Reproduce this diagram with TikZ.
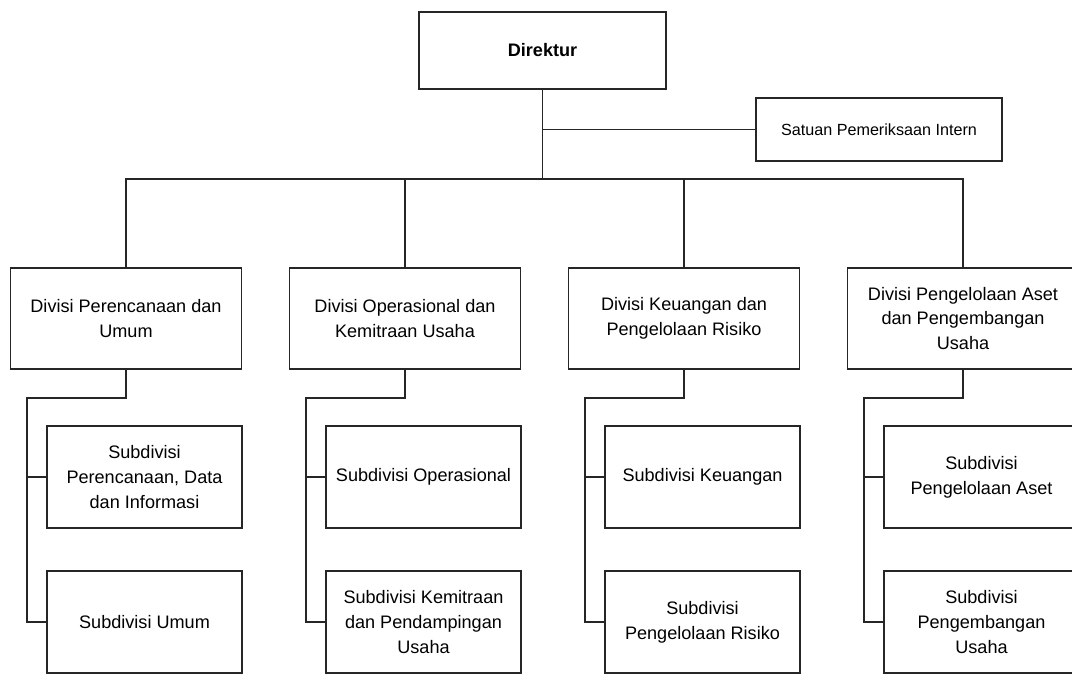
\documentclass[tikz,border=0pt]{standalone}
\usepackage{fontspec}
\setmainfont{Liberation Sans}
\usepackage{tikz}
\usetikzlibrary{positioning,calc}
\tikzset{
    unit/.style={draw=black!85, line width=1pt, align=center, inner sep=2pt,
        font=\fontsize{10.3}{14.2}\selectfont},
    topbox/.style={unit, minimum width=4.94cm, minimum height=1.54cm, font=\fontsize{10.3}{14.2}\selectfont\bfseries},
    auditbox/.style={unit, minimum width=4.92cm, minimum height=1.26cm, font=\fontsize{9.2}{12}\selectfont},
    divbox/.style={unit, minimum width=4.62cm, minimum height=2.02cm},
    subbox/.style={unit, minimum width=3.9cm, minimum height=2.04cm},
    link/.style={draw=black!85, line width=1pt}
}

\begin{document}
\begin{tikzpicture}[x=0.02cm, y=-0.02cm]
    \useasboundingbox (0,0) rectangle (1072,681);

    % Pimpinan
    \node[topbox] (dir) at (542.5,50.5) {Direktur};
    \node[auditbox] (spi) at (879,129.5) {Satuan Pemeriksaan Intern};

    % Divisi
    \node[divbox] (div1) at (126,318.5) {Divisi Perencanaan dan\\Umum};
    \node[divbox] (div2) at (405,318.5) {Divisi Operasional dan\\Kemitraan Usaha};
    \node[divbox] (div3) at (684,318.5) {Divisi Keuangan dan\\Pengelolaan Risiko};
    \node[divbox] (div4) at (963,318.5) {Divisi Pengelolaan Aset\\dan Pengembangan\\Usaha};

    % Subdivisi
    \node[subbox] (sub1a) at (144.5,477) {Subdivisi\\Perencanaan, Data\\dan Informasi};
    \node[subbox] (sub1b) at (144.5,622) {Subdivisi Umum};
    \node[subbox] (sub2a) at (423.5,477) {Subdivisi Operasional};
    \node[subbox] (sub2b) at (423.5,622) {Subdivisi Kemitraan\\dan Pendampingan\\Usaha};
    \node[subbox] (sub3a) at (702.5,477) {Subdivisi Keuangan};
    \node[subbox] (sub3b) at (702.5,622) {Subdivisi\\Pengelolaan Risiko};
    \node[subbox] (sub4a) at (981.5,477) {Subdivisi\\Pengelolaan Aset};
    \node[subbox] (sub4b) at (981.5,622) {Subdivisi\\Pengembangan\\Usaha};

    % Titik bantu
    \coordinate (bus) at (542.5,179);
    \coordinate (e1) at (27,398);
    \coordinate (e2) at (306,398);
    \coordinate (e3) at (585,398);
    \coordinate (e4) at (864,398);

    % Garis Direktur
    \draw[link] (dir.south) -- (bus);
    \draw[link] (dir.south |- spi.west) -- (spi.west);
    \draw[link] (div1.north) |- (bus) -| (div4.north);
    \draw[link] (div2.north) -- (div2.north |- bus);
    \draw[link] (div3.north) -- (div3.north |- bus);

    % Garis divisi ke subdivisi
    \draw[link] (div1.south) |- (e1) |- (sub1b.west);
    \draw[link] (e1 |- sub1a.west) -- (sub1a.west);
    \draw[link] (div2.south) |- (e2) |- (sub2b.west);
    \draw[link] (e2 |- sub2a.west) -- (sub2a.west);
    \draw[link] (div3.south) |- (e3) |- (sub3b.west);
    \draw[link] (e3 |- sub3a.west) -- (sub3a.west);
    \draw[link] (div4.south) |- (e4) |- (sub4b.west);
    \draw[link] (e4 |- sub4a.west) -- (sub4a.west);

\end{tikzpicture}
\end{document}
